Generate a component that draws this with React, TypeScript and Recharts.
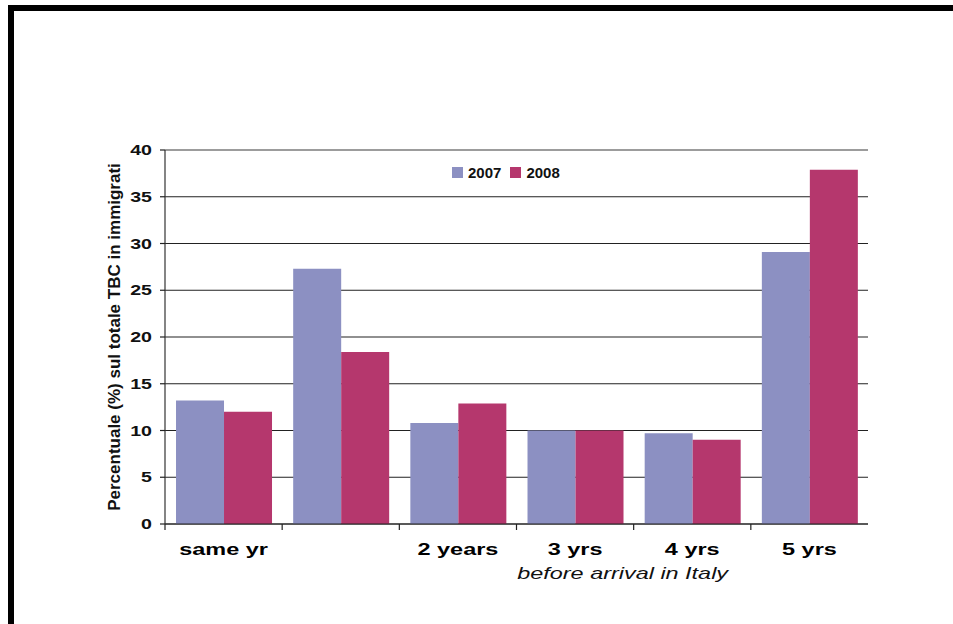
import { BarChart, Bar, XAxis, YAxis, CartesianGrid, Legend, ReferenceLine, Label } from "recharts";

const categories = ["same yr", "", "2 years", "3 yrs", "4 yrs", "5 yrs"];
const values2007 = [13.2, 27.3, 10.8, 10.0, 9.7, 29.1];
const values2008 = [12.0, 18.4, 12.9, 10.0, 9.0, 37.9];
const yTicks = [0, 5, 10, 15, 20, 25, 30, 35, 40];

const chartData = categories.map((name, i) => ({
  name,
  y2007: values2007[i],
  y2008: values2008[i],
}));

const FONT = "'Liberation Sans', Arial, sans-serif";
const C2007 = "#8c90c2";
const C2008 = "#b5376d";
// the source picture is stretched sideways, so text is widened to match
const STRETCH = 1.38;

function CategoryTick(props: any) {
  const { x, y, payload } = props;
  const half = payload.offset ?? 58.6;
  return (
    <g>
      <line x1={x - half} y1={y - 8} x2={x - half} y2={y - 2} stroke="#222" strokeWidth={1.2} />
      <text
        transform={`translate(${x}, ${y + 23}) scale(${STRETCH}, 1)`}
        textAnchor="middle"
        fontFamily={FONT}
        fontWeight="bold"
        fontSize={17}
        fill="#000"
      >
        {payload.value}
      </text>
    </g>
  );
}

function ValueTick(props: any) {
  const { x, y, payload } = props;
  return (
    <text
      transform={`translate(${x}, ${y + 5}) scale(1.4, 1)`}
      textAnchor="end"
      fontFamily={FONT}
      fontWeight="bold"
      fontSize={14}
      fill="#111"
    >
      {payload.value}
    </text>
  );
}

function LegendContent(props: any) {
  const items = props.payload || [];
  return (
    <div style={{ display: "flex", alignItems: "center", fontFamily: FONT, fontWeight: "bold", fontSize: 15, color: "#111" }}>
      {items.map((it: any) => (
        <div key={it.value} style={{ display: "flex", alignItems: "center", marginRight: 9 }}>
          <span style={{ width: 11, height: 11, background: it.color, display: "inline-block", marginRight: 5 }} />
          <span>{it.value}</span>
        </div>
      ))}
    </div>
  );
}

export default function App() {
  return (
    <div style={{ position: "absolute", left: 0, top: 0, width: 953, height: 624, background: "#fff" }}>
      <div style={{ position: "absolute", left: 8, top: 5, width: 945, height: 6, background: "#000" }} />
      <div style={{ position: "absolute", left: 8, top: 5, width: 6, height: 619, background: "#000" }} />
      <BarChart
        width={953}
        height={624}
        data={chartData}
        margin={{ top: 150, right: 85, left: 120, bottom: 70 }}
        barCategoryGap="9.4%"
        barGap={0}
      >
        <CartesianGrid vertical={false} stroke="#222" strokeWidth={1.2} />
        <ReferenceLine y={40} stroke="#a8a8a8" strokeWidth={1.2} />
        <XAxis
          dataKey="name"
          height={30}
          axisLine={{ stroke: "#222", strokeWidth: 1.2 }}
          tickLine={false}
          tick={<CategoryTick />}
          interval={0}
        >
          <Label
            content={(p: any) => {
              const vb = p.viewBox;
              const cx = vb.x + vb.width * 0.651;
              return (
                <text
                  transform={`translate(${cx}, ${vb.y + 55}) scale(1.42, 1)`}
                  textAnchor="middle"
                  fontFamily={FONT}
                  fontStyle="italic"
                  fontSize={16.5}
                  fill="#111"
                >
                  before arrival in Italy
                </text>
              );
            }}
          />
        </XAxis>
        <YAxis
          width={45}
          domain={[0, 40]}
          ticks={yTicks}
          interval={0}
          tickSize={5}
          tickMargin={8}
          axisLine={{ stroke: "#333", strokeWidth: 1.2 }}
          tickLine={{ stroke: "#222", strokeWidth: 1.2 }}
          tick={<ValueTick />}
        >
          <Label
            content={(p: any) => {
              const vb = p.viewBox;
              const cx = vb.x - 6;
              const cy = vb.y + vb.height / 2;
              return (
                <text
                  x={cx}
                  y={cy}
                  transform={`rotate(-90, ${cx}, ${cy})`}
                  textAnchor="middle"
                  dominantBaseline="central"
                  fontFamily={FONT}
                  fontWeight="bold"
                  fontSize={17}
                  fill="#111"
                >
                  Percentuale (%) sul totale TBC in immigrati
                </text>
              );
            }}
          />
        </YAxis>
        <Legend
          content={<LegendContent />}
          layout="horizontal"
          verticalAlign="middle"
          align="center"
          wrapperStyle={{ position: "absolute", top: 164, left: 452, width: 140 }}
        />
        <Bar dataKey="y2007" name="2007" fill={C2007} isAnimationActive={false} />
        <Bar dataKey="y2008" name="2008" fill={C2008} isAnimationActive={false} />
      </BarChart>
    </div>
  );
}
